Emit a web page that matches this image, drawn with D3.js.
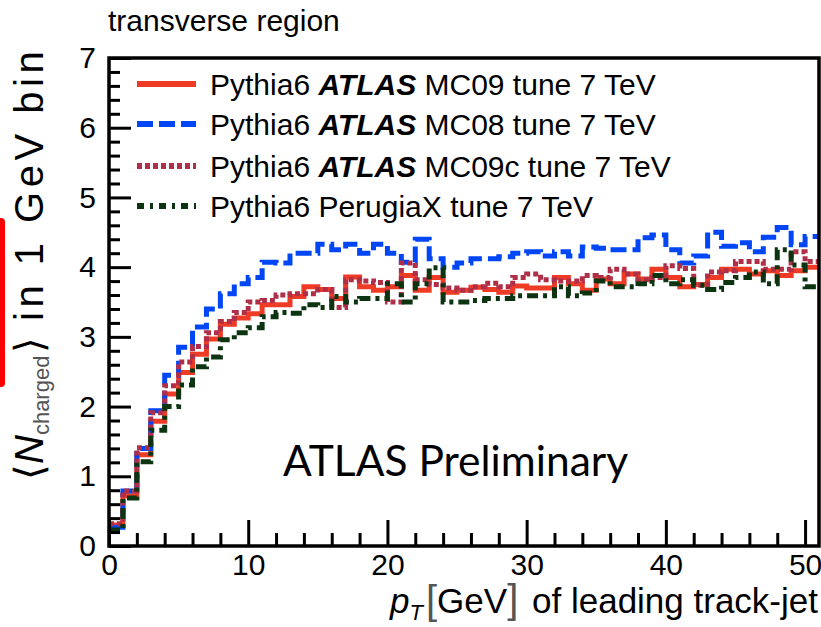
<!DOCTYPE html>
<html>
<head>
<meta charset="utf-8">
<script src="https://cdn.jsdelivr.net/npm/d3@7/dist/d3.min.js"></script>
<style>
  body { margin: 0; background: #fff; }
  text { font-family: "Liberation Sans", Arial, sans-serif; fill: #000; }
</style>
</head>
<body>
<svg id="chart" width="821" height="627"></svg>
<script>
// <N_charged> per 1 GeV bin of leading track-jet pT, bins 0..51 GeV
const mc09 = [0.30, 0.72, 1.31, 1.79, 2.18, 2.49, 2.75, 2.97, 3.18, 3.27,
  3.33, 3.46, 3.46, 3.58, 3.72, 3.68, 3.55, 3.86, 3.72, 3.67,
  3.72, 3.88, 3.67, 3.85, 3.64, 3.67, 3.71, 3.68, 3.64, 3.73,
  3.70, 3.70, 3.85, 3.76, 3.67, 3.83, 3.76, 3.90, 3.83, 3.97,
  3.85, 3.72, 3.75, 3.85, 3.97, 3.97, 3.90, 3.95, 3.88, 3.95, 4.00];
const mc08 = [0.27, 0.79, 1.40, 1.94, 2.45, 2.85, 3.14, 3.40, 3.62, 3.76,
  3.85, 4.07, 4.06, 4.20, 4.20, 4.33, 4.25, 4.33, 4.20, 4.33,
  4.20, 4.07, 4.40, 4.12, 4.00, 4.06, 4.12, 4.12, 4.15, 4.20,
  4.22, 4.16, 4.22, 4.16, 4.29, 4.27, 4.25, 4.25, 4.42, 4.46,
  4.25, 4.06, 4.16, 4.50, 4.30, 4.35, 4.22, 4.43, 4.57, 4.32, 4.44];
const mc09c = [0.32, 0.79, 1.41, 1.91, 2.30, 2.64, 2.86, 3.06, 3.22, 3.35,
  3.50, 3.52, 3.60, 3.62, 3.62, 3.68, 3.42, 3.82, 3.80, 3.78,
  3.50, 4.06, 3.82, 3.75, 3.70, 3.67, 3.72, 3.77, 3.72, 3.85,
  3.90, 3.82, 3.80, 3.80, 3.88, 3.85, 3.97, 3.90, 3.82, 3.85,
  4.02, 3.98, 3.74, 3.93, 3.95, 4.08, 4.08, 3.97, 3.97, 4.22, 4.08];
const perugiaX = [0.23, 0.69, 1.21, 1.66, 2.00, 2.31, 2.57, 2.71, 2.96, 3.06,
  3.13, 3.29, 3.35, 3.34, 3.46, 3.42, 3.58, 3.50, 3.55, 3.55,
  3.76, 3.50, 3.76, 3.99, 3.50, 3.50, 3.52, 3.55, 3.55, 3.59,
  3.59, 3.59, 3.72, 3.59, 3.63, 3.80, 3.72, 3.72, 3.76, 3.88,
  3.76, 3.82, 3.74, 3.68, 3.78, 3.85, 3.93, 3.76, 4.25, 4.03, 3.72];

const legendLabels = [
  ["Pythia6 ", "ATLAS", " MC09 tune 7 TeV"],
  ["Pythia6 ", "ATLAS", " MC08 tune 7 TeV"],
  ["Pythia6 ", "ATLAS", " MC09c tune 7 TeV"],
  ["Pythia6 PerugiaX tune 7 TeV", "", ""]
];
const xMajorTicks = [0, 10, 20, 30, 40, 50];
const yMajorTicks = [0, 1, 2, 3, 4, 5, 6, 7];

const series = [
  { values: mc09, color: "#ee3b26", dash: null, legendDash: null },
  { values: mc08, color: "#0046f5", dash: "16,6", legendDash: "16,6" },
  { values: mc09c, color: "#b02f48", dash: "5,3", legendDash: "5,3" },
  { values: perugiaX, color: "#0c3410", dash: "11,5,4,5", legendDash: "7,6,3,6" }
];

const svg = d3.select("#chart");
const plotLeft = 109, plotRight = 819, plotTop = 58, plotBottom = 546;

const x = d3.scaleLinear().domain([0, 51]).range([plotLeft, plotRight]);
const y = d3.scaleLinear().domain([0, 7]).range([plotBottom, plotTop]);

svg.append("defs").append("clipPath").attr("id", "plotClip")
  .append("rect")
  .attr("x", plotLeft).attr("y", plotTop)
  .attr("width", plotRight - plotLeft).attr("height", plotBottom - plotTop);

// step histograms
const line = d3.line()
  .x(d => x(d[0]))
  .y(d => y(d[1]))
  .curve(d3.curveStepAfter);

const plot = svg.append("g").attr("clip-path", "url(#plotClip)");
series.forEach(s => {
  const pts = s.values.map((v, i) => [i, v]);
  pts.push([s.values.length, s.values[s.values.length - 1]]);
  plot.append("path")
    .attr("d", line(pts))
    .attr("fill", "none")
    .attr("stroke", s.color)
    .attr("stroke-width", 5)
    .attr("stroke-dasharray", s.dash);
});

// axes, ticks pointing inwards
const yMinor = d3.range(0, 7.0001, 0.2).filter(v => Math.abs(v - Math.round(v)) > 0.01);
svg.append("g")
  .attr("transform", `translate(${plotLeft},0)`)
  .call(d3.axisLeft(y).tickValues(yMinor).tickSizeInner(-11).tickSizeOuter(0).tickFormat(""))
  .call(g => g.select(".domain").remove());
svg.append("g")
  .attr("transform", `translate(${plotLeft},0)`)
  .call(d3.axisLeft(y).tickValues(yMajorTicks).tickSizeInner(-22).tickSizeOuter(0).tickPadding(13).tickFormat(d3.format("d")))
  .call(g => g.select(".domain").remove());

const xMinor = d3.range(2, 51, 2).filter(v => v % 10 !== 0);
svg.append("g")
  .attr("transform", `translate(0,${plotBottom})`)
  .call(d3.axisBottom(x).tickValues(xMinor).tickSizeInner(-13).tickSizeOuter(0).tickFormat(""))
  .call(g => g.select(".domain").remove());
svg.append("g")
  .attr("transform", `translate(0,${plotBottom})`)
  .call(d3.axisBottom(x).tickValues(xMajorTicks).tickSizeInner(-26).tickSizeOuter(0).tickPadding(8).tickFormat(d3.format("d")))
  .call(g => g.select(".domain").remove());

svg.selectAll(".tick line").attr("stroke", "#000").attr("stroke-width", 3);
svg.selectAll(".tick text")
  .style("font-family", '"Liberation Sans", Arial, sans-serif')
  .style("font-size", "30px")
  .attr("fill", "#000");

// frame
svg.append("rect")
  .attr("x", plotLeft).attr("y", plotTop)
  .attr("width", plotRight - plotLeft).attr("height", plotBottom - plotTop)
  .attr("fill", "none")
  .attr("stroke", "#000")
  .attr("stroke-width", 3.5);

// legend
const legend = svg.append("g");
const rowY = [84, 124, 166, 206];
legendLabels.forEach((lab, i) => {
  const s = series[i];
  legend.append("line")
    .attr("x1", 137).attr("x2", 196)
    .attr("y1", rowY[i]).attr("y2", rowY[i])
    .attr("stroke", s.color)
    .attr("stroke-width", 6)
    .attr("stroke-dasharray", s.legendDash);
  const t = legend.append("text")
    .attr("x", 210).attr("y", rowY[i] + 11)
    .style("font-size", "30px");
  t.append("tspan").text(lab[0]);
  if (lab[1]) {
    t.append("tspan").text(lab[1]).style("font-weight", "bold").style("font-style", "italic");
    t.append("tspan").text(lab[2]);
  }
});

// titles
svg.append("text")
  .attr("x", 108).attr("y", 31)
  .style("font-size", "30px")
  .text("transverse region");

const xt = svg.append("text")
  .attr("x", 818).attr("y", 613)
  .attr("text-anchor", "end")
  .style("font-size", "35px");
xt.append("tspan").text("p").style("font-style", "italic");
xt.append("tspan").text("T").style("font-style", "italic").style("font-size", "22px").attr("dy", 7);
xt.append("tspan").text("[").style("font-size", "40px").attr("fill", "#555").attr("dy", -6).attr("dx", 3);
xt.append("tspan").text("GeV").attr("dy", -1);
xt.append("tspan").text("]").style("font-size", "40px").attr("fill", "#555");
xt.append("tspan").text(" of leading track-jet").attr("dx", 4);

const yt = svg.append("text")
  .attr("transform", "translate(43,480) rotate(-90)")
  .attr("text-anchor", "start")
  .style("font-size", "40px");
yt.append("tspan").text("\u27E8");
yt.append("tspan").text("N").style("font-style", "italic");
yt.append("tspan").text("charged").style("font-size", "22px").attr("fill", "#555").attr("dy", 6);
yt.append("tspan").text("\u27E9").attr("dy", -6).attr("dx", 3);
yt.append("tspan").text(" in 1 GeV bin").style("letter-spacing", "4.5px");

// annotation box edge on the far left
svg.append("rect")
  .attr("x", -12).attr("y", 218)
  .attr("width", 17).attr("height", 169)
  .attr("rx", 4)
  .attr("fill", "#ff0000");

svg.append("text")
  .attr("x", 283).attr("y", 476)
  .style("font-family", "Lato, 'Open Sans', sans-serif")
  .style("font-size", "42.5px")
  .text("ATLAS Preliminary");
</script>
</body>
</html>
